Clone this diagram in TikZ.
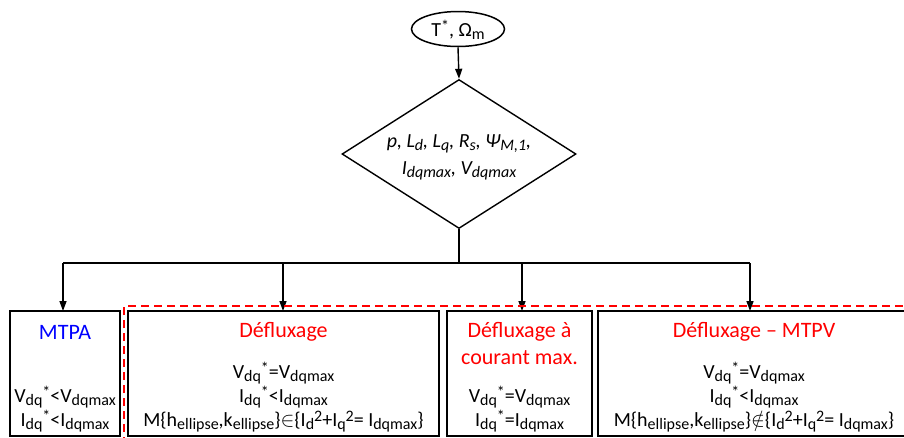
\documentclass[tikz,border=0pt]{standalone}
\usepackage{fontspec}
\setmainfont{Carlito}
\usetikzlibrary{shapes.geometric,arrows.meta}
\newcommand{\sbs}[1]{\raisebox{-3pt}{\fontsize{16}{16}\selectfont #1}}
\newcommand{\sps}[1]{\raisebox{5pt}{\fontsize{16}{16}\selectfont #1}}
\definecolor{rouge}{RGB}{255,0,0}
\definecolor{bleu}{RGB}{0,0,255}
\tikzset{
  boxnode/.style={draw, line width=2pt, inner sep=0pt},
  conn/.style={line width=1.4pt},
  arr/.style={line width=1.4pt, -{Triangle[length=10pt,width=7pt]}},
  txt/.style={inner sep=0pt, align=center, font=\fontsize{20}{24}\selectfont},
  ttl/.style={inner sep=0pt, align=center, font=\fontsize{22}{27}\selectfont},
}
\begin{document}
\begin{tikzpicture}[x=1pt,y=-1pt]
\useasboundingbox (0,0) rectangle (904,437);
% top
\node[draw, ellipse, line width=1.5pt, minimum width=93pt, minimum height=35pt, inner sep=0pt] (start) at (458,29) {};
\node[txt] (starttxt) at (458,30) {T\sps{*}, Ω\sbs{m}};
\node[draw, diamond, line width=1.4pt, minimum width=234pt, minimum height=149pt, inner sep=0pt] (dia) at (459,154) {};
\node[txt, font=\fontsize{20}{27}\selectfont\itshape] (diatxt) at (459,157) {p, L\sbs{d}, L\sbs{q}, R\sbs{s}, Ψ\sbs{M,1},\\ I\sbs{dqmax}, V\sbs{dqmax}};
\draw[arr] (start.south) -- (dia.north);
% boxes
\node[boxnode, minimum width=110pt, minimum height=125pt] (b1) at (65,373.5) {};
\node[boxnode, minimum width=311pt, minimum height=125pt] (b2) at (283.5,373.5) {};
\node[boxnode, minimum width=145pt, minimum height=125pt] (b3) at (519.5,373.5) {};
\node[boxnode, minimum width=312pt, minimum height=125pt] (b4) at (754,373.5) {};
% connectors
\coordinate (split) at (459,263);
\coordinate (h1) at (63,263);
\coordinate (h2) at (283,263);
\coordinate (h3) at (522,263);
\coordinate (h4) at (750,263);
\coordinate (e1) at (63,311);
\coordinate (e2) at (283,311);
\coordinate (e3) at (522,311);
\coordinate (e4) at (750,311);
\draw[conn] (dia.south) -- (split);
\draw[conn] (h1) -- (h4);
\draw[arr] (h1) -- (e1);
\draw[arr] (h2) -- (e2);
\draw[arr] (h3) -- (e3);
\draw[arr] (h4) -- (e4);
% red dashed region
\draw[rouge, line width=1.6pt, dash pattern=on 8pt off 5pt] (124,445) -- (124,306) -- (915,306);
% texts
\node[ttl, text=bleu] (t1) at (65,332) {MTPA};
\node[txt] (l1) at (65,409) {V\sbs{dq}\sps{*}<V\sbs{dqmax}\\ I\sbs{dq}\sps{*}<I\sbs{dqmax}};
\node[ttl, text=rouge] (t2) at (283.5,332) {Défluxage};
\node[txt] (l2) at (283.5,397) {V\sbs{dq}\sps{*}=V\sbs{dqmax}\\ I\sbs{dq}\sps{*}<I\sbs{dqmax}\\ M\{h\sbs{ellipse},k\sbs{ellipse}\}$\in$\{I\sbs{d}\sps{2}+I\sbs{q}\sps{2}= I\sbs{dqmax}\}};
\node[ttl, text=rouge] (t3) at (519.5,344) {Défluxage à\\ courant max.};
\node[txt] (l3) at (519.5,409) {V\sbs{dq}\sps{*}=V\sbs{dqmax}\\ I\sbs{dq}\sps{*}=I\sbs{dqmax}};
\node[ttl, text=rouge] (t4) at (754,332) {Défluxage – MTPV};
\node[txt] (l4) at (754,397) {V\sbs{dq}\sps{*}=V\sbs{dqmax}\\ I\sbs{dq}\sps{*}<I\sbs{dqmax}\\ M\{h\sbs{ellipse},k\sbs{ellipse}\}$\notin$\{I\sbs{d}\sps{2}+I\sbs{q}\sps{2}= I\sbs{dqmax}\}};
\end{tikzpicture}
\end{document}
